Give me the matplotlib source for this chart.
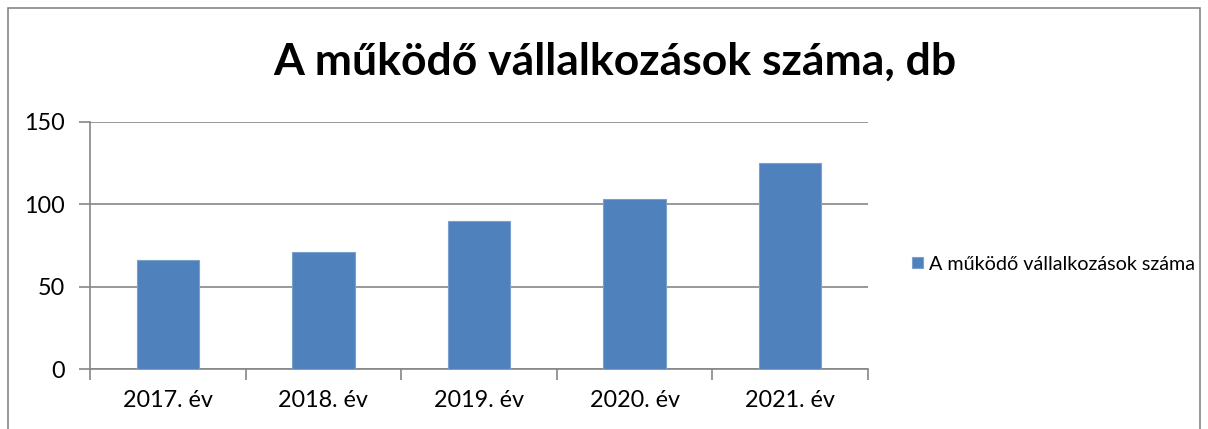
import matplotlib
matplotlib.use("Agg")
import matplotlib.pyplot as plt
from matplotlib.patches import Rectangle
import numpy as np

categories = ["2017. év", "2018. év", "2019. év", "2020. év", "2021. év"]
values = [66, 71, 90, 103, 125]
series_name = "A működő vállalkozások száma"
title = "A működő vállalkozások száma, db"
yticks = [0, 50, 100, 150]

plt.rcParams['font.family'] = ['Lato', 'DejaVu Sans']

fig = plt.figure(figsize=(12.08, 4.29), dpi=100)
fig.patch.set_facecolor("white")
fig.patches.append(Rectangle((8/1208, -0.1), 1192/1208, 1.1 - 8/429, transform=fig.transFigure,
                             fill=False, edgecolor="#868686", linewidth=1.2))

ax = fig.add_axes([90/1208, 60/429, 778/1208, 247/429])
x = np.arange(len(categories))
ax.bar(x, values, width=0.4, color="#4F81BD", edgecolor="#7BA0CD", linewidth=0.8,
       label=series_name, zorder=3)
ax.set_xlim(-0.5, len(categories) - 0.5)
ax.set_ylim(0, 150)
ax.set_yticks(yticks)
ax.set_yticklabels([str(v) for v in yticks], fontsize=16.8)
ax.set_xticks(x)
ax.set_xticklabels(categories, fontsize=16.8)
ax.tick_params(axis='x', length=0, pad=15)
ax.set_xticks(np.arange(-0.5, len(categories)), minor=True)
ax.tick_params(axis='x', which='minor', length=8, color="#868686", width=1.2, direction='out')
ax.tick_params(axis='y', length=8, color="#868686", width=1.2, direction='out', pad=10)
ax.grid(axis='y', color="#868686", linewidth=1.2, zorder=0)
for s in ['top', 'right']:
    ax.spines[s].set_visible(False)
for s in ['left', 'bottom']:
    ax.spines[s].set_color("#868686")
    ax.spines[s].set_linewidth(1.2)

fig.text(615/1208, 1 - 62/429, title, ha='center', va='center', fontsize=32, fontweight='bold')

handles, labels = ax.get_legend_handles_labels()
fig.legend(handles, labels, loc='center left', bbox_to_anchor=(894/1208, 1 - 264/429),
           frameon=False, fontsize=14.2, handlelength=0.55, handleheight=0.55, handletextpad=0.3)

fig.savefig("out.png", dpi=100, facecolor="white")
